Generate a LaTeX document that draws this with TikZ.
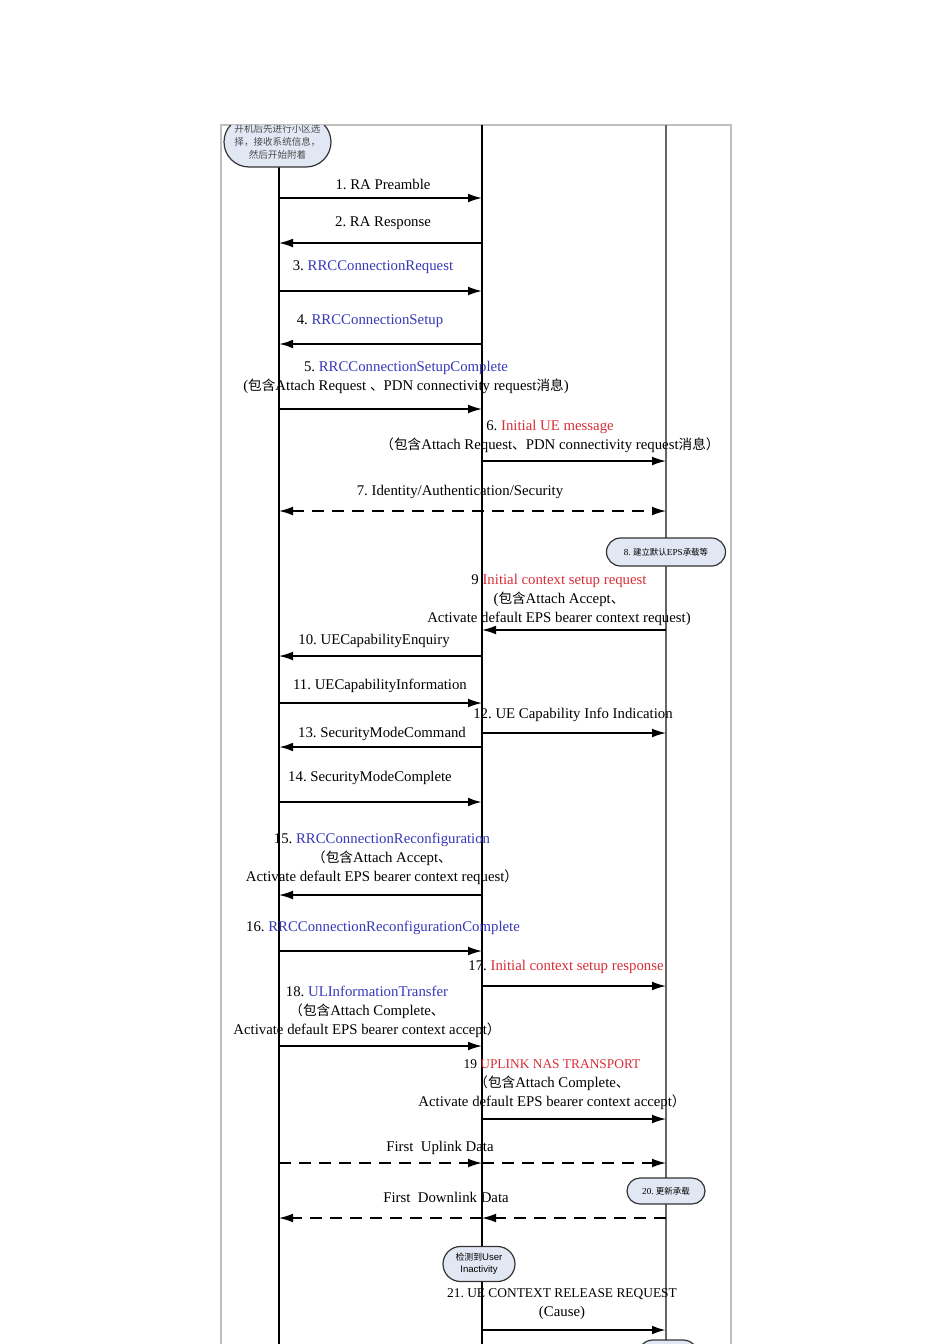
\documentclass[tikz,border=0pt]{standalone}
\usepackage{fontspec}
\setmainfont{Liberation Serif}
\newfontfamily\cjk{Noto Sans CJK SC}[Scale=0.92]
\newfontfamily\arialf{Liberation Sans}
\usepackage{xcolor}
\usetikzlibrary{arrows.meta,shapes.misc}

\definecolor{msgblue}{RGB}{55,55,185}
\definecolor{msgred}{RGB}{215,45,55}
\definecolor{bubfill}{RGB}{226,231,244}
\newcommand{\zh}[1]{{\cjk #1}}
\newcommand{\bl}[1]{\textcolor{msgblue}{#1}}
\newcommand{\rd}[1]{\textcolor{msgred}{#1}}
\frenchspacing

\begin{document}
\begin{tikzpicture}[
  x=0.5pt, y=-0.5pt,
  lbl/.style={font=\fontsize{7.4pt}{9.5pt}\selectfont, align=center, inner sep=0pt},
  caps/.style={lbl, font=\fontsize{6.7pt}{9.5pt}\selectfont},
  bubble/.style={draw=black!80, line width=0.6pt, fill=bubfill, rounded rectangle,
                 inner sep=1pt, align=center, font=\fontsize{4.6pt}{6pt}\selectfont},
  life/.style={line width=0.75pt},
  msg/.style={-{Latex[length=7pt,width=4.4pt]}, line width=0.7pt},
  bmsg/.style={msg, line width=1.1pt},
  dmsg/.style={msg, dash pattern=on 6pt off 4pt}
]
\useasboundingbox (0,0) rectangle (950,1344);

% frame and lifelines
\draw[black!25, line width=0.6pt] (221,1344) -- (221,125) -- (731,125) -- (731,1344);
\coordinate (ueTop) at (279,125);  \coordinate (ueBot) at (279,1344);
\coordinate (enbTop) at (482,125); \coordinate (enbBot) at (482,1344);
\coordinate (mmeTop) at (666,125); \coordinate (mmeBot) at (666,1344);
\draw[life] (ueTop) -- (ueBot);
\draw[life] (enbTop) -- (enbBot);
\draw[life, black!60, line width=1pt] (mmeTop) -- (mmeBot);

% message rows
\foreach \n/\y in {1/198, 2/243, 3/291, 4/344, 5/409, 6/461, 7/511, 9/630,
                   10/656, 11/703, 12/733, 13/747, 14/802, 15/895, 16/951,
                   17/986, 18/1046, 19/1119, u/1163, d/1218, 21/1330} {
  \coordinate (ue\n) at (279,\y);
  \coordinate (enb\n) at (482,\y);
  \coordinate (mme\n) at (666,\y);
}

% bubbles (cut by the frame)
\begin{scope}
\clip (0,125) rectangle (950,1344);
\node[bubble, minimum width=111*0.5pt, minimum height=50*0.5pt, text=black!70,
      font=\fontsize{5.2pt}{6.5pt}\selectfont] (start) at (277.5,142)
  {\zh{开机后先进行小区选}\\\zh{择，接收系统信息，}\\\zh{然后开始附着}};
\node[bubble, minimum width=64*0.5pt, minimum height=30*0.5pt] (next) at (668,1355) {};
\end{scope}
\node[bubble, minimum width=123*0.5pt, minimum height=28*0.5pt] (eps) at (666,552)
  {8. \zh{建立默认}EPS\zh{承载等}};
\node[bubble, minimum width=82*0.5pt, minimum height=26*0.5pt] (upd) at (666,1191)
  {20. \zh{更新承载}};
\node[bubble, minimum width=76*0.5pt, minimum height=35*0.5pt,
      font=\arialf\fontsize{4.8pt}{6pt}\selectfont] (inact) at (479,1264)
  {\zh{检测到}User\\Inactivity};

% labels
\node[lbl] (l1) at (383,184) {1. RA Preamble};
\node[lbl] (l2) at (383,223) {2. RA Response};
\node[lbl] (l3) at (373,267) {3. \bl{RRCConnectionRequest}};
\node[lbl] (l4) at (370,321) {4. \bl{RRCConnectionSetup}};
\node[lbl] (l5) at (406,377)
  {5. \bl{RRCConnectionSetupComplete}\\
   (\zh{包含}Attach Request \zh{、}PDN connectivity request\zh{消息})};
\node[lbl] (l6) at (550,436)
  {6. \rd{Initial UE message}\\
   \zh{（包含}Attach Request\zh{、}PDN connectivity request\zh{消息）}};
\node[lbl] (l7) at (460,492) {7. Identity/Authentication/Security};
\node[lbl] (l9) at (559,600)
  {9 \rd{Initial context setup request}\\
   (\zh{包含}Attach Accept\zh{、}\\
   Activate default EPS bearer context request)};
\node[lbl] (l10) at (374,641) {10. UECapabilityEnquiry};
\node[lbl] (l11) at (380,686) {11. UECapabilityInformation};
\node[lbl] (l12) at (573,715) {12. UE Capability Info Indication};
\node[lbl] (l13) at (382,734) {13. SecurityModeCommand};
\node[lbl] (l14) at (370,778) {14. SecurityModeComplete};
\node[lbl] (l15) at (382,859)
  {15. \bl{RRCConnectionReconfiguration}\\
   \zh{（包含}Attach Accept\zh{、}\\
   Activate default EPS bearer context request\zh{）}};
\node[lbl] (l16) at (383,928) {16. \bl{RRCConnectionReconfigurationComplete}};
\node[lbl] (l17) at (566,967) {17. \rd{Initial context setup response}};
\node[lbl] (l18) at (367,1012)
  {18. \bl{ULInformationTransfer}\\
   \zh{（包含}Attach Complete\zh{、}\\
   Activate default EPS bearer context accept\zh{）}};
\node[lbl] (l19) at (552,1085)
  {{\fontsize{6.7pt}{9.5pt}\selectfont 19 \rd{UPLINK NAS TRANSPORT}}\\
   \zh{（包含}Attach Complete\zh{、}\\
   Activate default EPS bearer context accept\zh{）}};
\node[lbl] (lu) at (440,1148) {First\ \ Uplink Data};
\node[lbl] (ld) at (446,1197) {First\ \ Downlink Data};
\node[lbl] (l21) at (562,1304)
  {{\fontsize{6.7pt}{9.5pt}\selectfont 21. UE CONTEXT RELEASE REQUEST}\\(Cause)};

% arrows
\draw[msg] (ue1) -- (enb1);
\draw[msg] (enb2) -- (ue2);
\draw[msg] (ue3) -- (enb3);
\draw[bmsg] (enb4) -- (ue4);
\draw[msg] (ue5) -- (enb5);
\draw[msg] (enb6) -- (mme6);
\draw[dmsg, {Latex[length=7pt,width=4.4pt]}-{Latex[length=7pt,width=4.4pt]}] (ue7) -- (mme7);
\draw[msg] (mme9) -- (enb9);
\draw[msg] (enb10) -- (ue10);
\draw[msg] (ue11) -- (enb11);
\draw[msg] (enb12) -- (mme12);
\draw[bmsg] (enb13) -- (ue13);
\draw[bmsg] (ue14) -- (enb14);
\draw[msg] (enb15) -- (ue15);
\draw[msg] (ue16) -- (enb16);
\draw[msg] (enb17) -- (mme17);
\draw[msg] (ue18) -- (enb18);
\draw[msg] (enb19) -- (mme19);
\draw[dmsg] (ueu) -- (enbu);
\draw[dmsg] (enbu) -- (mmeu);
\draw[dmsg] (mmed) -- (enbd);
\draw[dmsg] (enbd) -- (ued);
\draw[bmsg] (enb21) -- (mme21);
\end{tikzpicture}
\end{document}
